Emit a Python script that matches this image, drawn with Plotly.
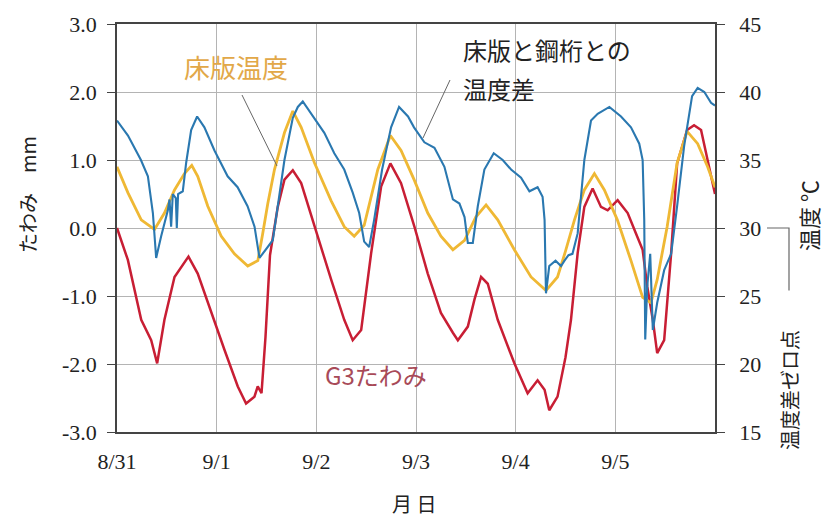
import plotly.graph_objects as go

# Elapsed time is in days counted from 8/31 00:00
day_ticks = [0, 1, 2, 3, 4, 5]
day_labels = ["8/31", "9/1", "9/2", "9/3", "9/4", "9/5"]

# Left axis (deflection, mm) and right axis (temperature, degC) ticks
mm_ticks = [-3, -2, -1, 0, 1, 2, 3]
mm_labels = ["-3.0", "-2.0", "-1.0", "0.0", "1.0", "2.0", "3.0"]
temp_ticks = [15, 20, 25, 30, 35, 40, 45]

# Temperature difference between deck slab and steel girder (degC, zero drawn at 30 degC)
diff_t = [0.00, 0.11, 0.24, 0.31, 0.36, 0.393, 0.443, 0.51, 0.527, 0.543, 0.56, 0.59, 0.60,
          0.613, 0.66, 0.694, 0.744, 0.804, 0.877, 0.978, 1.11, 1.21, 1.31, 1.38, 1.43, 1.51,
          1.563, 1.613, 1.68, 1.764, 1.814, 1.864, 1.948, 2.08, 2.18, 2.28, 2.365, 2.43, 2.48,
          2.53, 2.58, 2.66, 2.75, 2.83, 2.92, 2.98, 3.084, 3.185, 3.285, 3.37, 3.436, 3.487,
          3.52, 3.57, 3.62, 3.686, 3.78, 3.87, 3.954, 4.054, 4.138, 4.22, 4.27, 4.29, 4.304,
          4.337, 4.40, 4.455, 4.49, 4.53, 4.57, 4.622, 4.689, 4.756, 4.823, 4.94, 5.057, 5.157,
          5.24, 5.274, 5.29, 5.30, 5.32, 5.35, 5.376, 5.42, 5.49, 5.56, 5.62, 5.69, 5.77,
          5.826, 5.893, 5.96, 6.0]
diff_v = [7.9, 6.8, 5.0, 3.8, 1.1, -2.2, -0.6, 1.3, 2.1, 0.1, 2.5, 2.2, 0.0,
          2.5, 2.7, 4.8, 7.2, 8.2, 7.4, 5.7, 3.8, 3.0, 1.6, 0.1, -2.2, -1.4,
          -0.9, 1.6, 5.0, 8.1, 8.9, 9.3, 8.4, 7.0, 5.5, 4.3, 2.6, 1.1, -1.0,
          -1.4, 0.6, 4.3, 7.4, 8.9, 8.2, 7.4, 6.3, 5.9, 4.5, 2.1, 1.8, 0.8,
          -1.1, -1.1, 1.6, 4.3, 5.5, 5.0, 4.3, 3.7, 2.7, 3.0, 2.3, 0.6, -4.8,
          -2.8, -2.4, -2.8, -2.4, -2.0, -1.9, -0.4, 5.0, 7.9, 8.4, 8.9, 8.2, 7.4,
          6.2, 5.0, 0.6, -8.2, -4.3, -1.9, -7.5, -5.5, -3.1, -1.9, 1.6, 6.0, 9.7,
          10.3, 10.0, 9.2, 9.0]
diff_zero = 30.0

# Deck slab temperature (degC)
slab_t = [0.0, 0.109, 0.243, 0.376, 0.476, 0.577, 0.677, 0.75, 0.81, 0.911, 1.045, 1.178,
          1.312, 1.413, 1.46, 1.513, 1.58, 1.68, 1.764, 1.848, 1.981, 2.149, 2.28, 2.38, 2.48,
          2.617, 2.743, 2.85, 2.984, 3.118, 3.25, 3.37, 3.487, 3.6, 3.703, 3.82, 3.987, 4.154,
          4.304, 4.42, 4.50, 4.59, 4.689, 4.79, 4.89, 5.02, 5.157, 5.274, 5.357, 5.42, 5.52,
          5.62, 5.72, 5.826, 5.926, 6.0]
slab_v = [34.5, 32.6, 30.6, 29.9, 31.1, 32.8, 34.0, 34.6, 33.8, 31.6, 29.4, 28.1,
          27.2, 27.6, 29.5, 31.8, 34.3, 37.0, 38.6, 37.4, 34.8, 32.0, 30.1, 29.4, 30.2,
          34.3, 36.8, 35.7, 33.5, 31.1, 29.4, 28.4, 29.1, 30.8, 31.7, 30.6, 28.4, 26.4,
          25.4, 26.4, 28.3, 30.6, 32.8, 34.0, 32.8, 30.6, 27.6, 24.9, 24.5, 26.2, 30.1,
          34.8, 37.1, 36.2, 34.5, 33.0]

# G3 girder deflection (mm)
defl_t = [0.0, 0.109, 0.243, 0.343, 0.403, 0.476, 0.577, 0.644, 0.717, 0.81, 0.945, 1.078,
          1.212, 1.295, 1.379, 1.412, 1.45, 1.49, 1.535, 1.613, 1.68, 1.764, 1.848, 1.981,
          2.149, 2.28, 2.365, 2.45, 2.55, 2.65, 2.743, 2.85, 2.984, 3.118, 3.25, 3.37, 3.42,
          3.52, 3.587, 3.653, 3.72, 3.82, 3.987, 4.12, 4.22, 4.29, 4.337, 4.42, 4.50, 4.555,
          4.622, 4.689, 4.772, 4.856, 4.923, 5.023, 5.124, 5.207, 5.274, 5.32, 5.376, 5.42,
          5.49, 5.56, 5.62, 5.72, 5.79, 5.86, 5.926, 6.0]
defl_v = [0.0, -0.47, -1.35, -1.65, -1.99, -1.35, -0.72, -0.57, -0.42, -0.67, -1.25, -1.79,
          -2.33, -2.58, -2.48, -2.33, -2.43, -1.6, -0.4, 0.31, 0.71, 0.85, 0.66, 0.02,
          -0.76, -1.35, -1.65, -1.5, -0.37, 0.61, 0.95, 0.66, 0.02, -0.67, -1.25, -1.54, -1.65,
          -1.45, -1.05, -0.72, -0.82, -1.35, -1.99, -2.43, -2.24, -2.38, -2.68, -2.48, -1.9, -1.35,
          -0.37, 0.31, 0.58, 0.31, 0.26, 0.41, 0.22, -0.08, -0.32, -0.86, -1.35, -1.84,
          -1.65, -0.37, 0.95, 1.44, 1.51, 1.44, 1.0, 0.5]

BLUE = "#2a78b0"
YELLOW = "#efb834"
RED = "#c81e34"
SERIF = "Liberation Serif, Times New Roman, serif"
JP = "Noto Sans CJK JP, sans-serif"

# Plot-area geometry in pixels, used to place the free-standing texts
L, R, T, B = 117, 715, 24, 432


def px(xp):
    return (xp - L) / (R - L)


def py(yp):
    return (B - yp) / (B - T)


fig = go.Figure()
fig.add_trace(go.Scatter(x=slab_t, y=slab_v, yaxis="y2", mode="lines",
                         line=dict(color=YELLOW, width=2.8), name="床版温度"))
fig.add_trace(go.Scatter(x=diff_t, y=[diff_zero + v for v in diff_v], yaxis="y2", mode="lines",
                         line=dict(color=BLUE, width=2.1), name="床版と鋼桁との温度差"))
fig.add_trace(go.Scatter(x=defl_t, y=defl_v, mode="lines",
                         line=dict(color=RED, width=2.5), name="G3たわみ"))

fig.update_layout(
    width=827, height=521,
    margin=dict(l=L, r=827 - R, t=T, b=521 - B),
    paper_bgcolor="white", plot_bgcolor="white",
    showlegend=False,
    xaxis=dict(range=[0, 6], tickvals=day_ticks, ticktext=day_labels,
               showgrid=True, gridcolor="#b4b4b4", gridwidth=1,
               showline=True, linecolor="#444", linewidth=1.5, mirror=True,
               ticks="", ticklabelstandoff=9, zeroline=False,
               tickfont=dict(family=SERIF, size=22, color="#222")),
    yaxis=dict(range=[-3, 3], tickvals=mm_ticks, ticktext=mm_labels,
               showgrid=True, gridcolor="#b4b4b4", gridwidth=1,
               showline=True, linecolor="#444", linewidth=1.5, mirror=True,
               ticks="outside", ticklen=8, tickcolor="#444", ticklabelstandoff=6,
               zeroline=False,
               tickfont=dict(family=SERIF, size=22, color="#222")),
    yaxis2=dict(range=[15, 45], tickvals=temp_ticks, overlaying="y", side="right",
                showgrid=False, showline=True, linecolor="#444", linewidth=1.5,
                ticks="outside", ticklen=8, tickcolor="#444", ticklabelstandoff=10,
                zeroline=False,
                tickfont=dict(family=SERIF, size=22, color="#222")),
)

# Axis titles
fig.add_annotation(text="たわみ　mm", textangle=-90, xref="paper", yref="paper",
                   x=px(28), y=py(195), xanchor="center", yanchor="middle", showarrow=False,
                   font=dict(family=JP, size=20, color="#222"))
fig.add_annotation(text="温度 ℃", textangle=-90, xref="paper", yref="paper",
                   x=px(808), y=py(216), xanchor="center", yanchor="middle", showarrow=False,
                   font=dict(family=JP, size=22, color="#222"))
fig.add_annotation(text="温度差ゼロ点", textangle=-90, xref="paper", yref="paper",
                   x=px(789), y=py(390), xanchor="center", yanchor="middle", showarrow=False,
                   font=dict(family=JP, size=20, color="#222"))
fig.add_annotation(text="月 日", xref="paper", yref="paper",
                   x=px(414), y=py(503), xanchor="center", yanchor="middle", showarrow=False,
                   font=dict(family=JP, size=20, color="#222"))

# Series labels
fig.add_annotation(text="床版温度", xref="paper", yref="paper",
                   x=px(236), y=py(67), xanchor="center", yanchor="middle", showarrow=False,
                   font=dict(family=JP, size=26, color="#e2a848"))
fig.add_annotation(text="床版と鋼桁との", xref="paper", yref="paper",
                   x=px(461), y=py(49), xanchor="left", yanchor="middle",
                   showarrow=False,
                   font=dict(family=JP, size=24, color="#222"))
fig.add_annotation(text="温度差", xref="paper", yref="paper",
                   x=px(461), y=py(88), xanchor="left", yanchor="middle",
                   showarrow=False,
                   font=dict(family=JP, size=24, color="#222"))
fig.add_annotation(text="G3たわみ", xref="paper", yref="paper",
                   x=px(376), y=py(374), xanchor="center", yanchor="middle", showarrow=False,
                   font=dict(family=JP, size=24, color="#a84a58"))

# Leader lines from the labels to their curves
fig.add_shape(type="line", xref="paper", yref="paper",
              x0=px(242), y0=py(95), x1=px(277), y1=py(166),
              line=dict(color="#666", width=1))
fig.add_shape(type="line", xref="paper", yref="paper",
              x0=px(450), y0=py(80), x1=px(423), y1=py(138),
              line=dict(color="#666", width=1))

# Bracket marking where zero temperature difference sits on the right axis
fig.add_shape(type="path", xref="paper", yref="y2",
              path="M {a},30 L {b},30 L {b},25.4".format(a=px(767), b=px(789)),
              line=dict(color="#666", width=1.2))

fig.write_html("out.html")
